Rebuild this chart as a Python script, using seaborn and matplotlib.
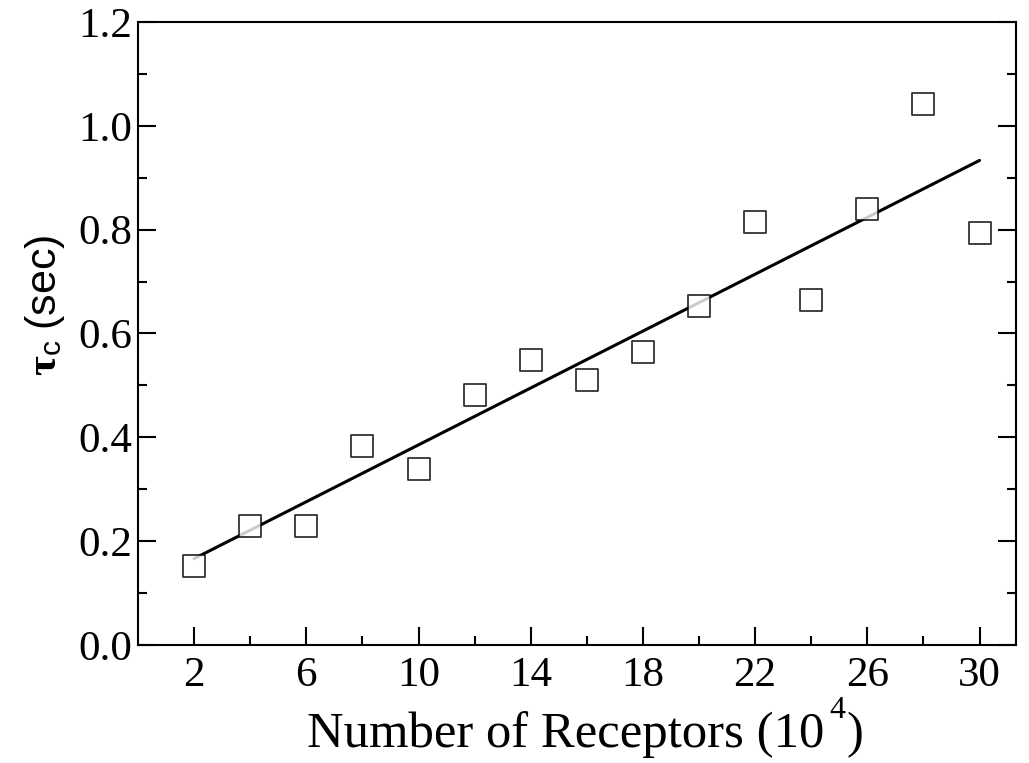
import numpy as np
import pandas as pd
import matplotlib
matplotlib.use("Agg")
import matplotlib.pyplot as plt
from matplotlib.ticker import MultipleLocator, FixedLocator
import seaborn as sns

# Receptor counts (units of 10^4) and measured correlation time tau_c (sec)
receptors = [2, 4, 6, 8, 10, 12, 14, 16, 18, 20, 22, 24, 26, 28, 30]
tau_c = [0.152, 0.229, 0.229, 0.383, 0.339, 0.482, 0.549, 0.511,
         0.565, 0.653, 0.815, 0.665, 0.840, 1.042, 0.794]
x_major_ticks = [2, 6, 10, 14, 18, 22, 26, 30]
x_minor_ticks = [4, 8, 12, 16, 20, 24, 28]
y_major_ticks = [0.0, 0.2, 0.4, 0.6, 0.8, 1.0, 1.2]

df = pd.DataFrame({"receptors": receptors, "tau_c": tau_c})

sns.set_style("ticks")
plt.rcParams["font.family"] = ["Liberation Serif", "DejaVu Serif"]
plt.rcParams["text.color"] = "black"
plt.rcParams["axes.labelcolor"] = "black"
plt.rcParams["mathtext.fontset"] = "custom"
plt.rcParams["mathtext.rm"] = "Liberation Serif"
plt.rcParams["mathtext.bf"] = "Liberation Serif:bold"
plt.rcParams["mathtext.it"] = "Liberation Serif:italic"
plt.rcParams["mathtext.sf"] = "Liberation Sans"

W, H = 1029, 763
fig = plt.figure(figsize=(W / 100, H / 100), dpi=100)
ax = fig.add_axes([138 / W, 1 - 645 / H, (1016 - 138) / W, (645 - 22) / H])

# Data points with a least-squares straight-line fit
sns.regplot(data=df, x="receptors", y="tau_c", ax=ax, ci=None,
            marker="s",
            scatter_kws=dict(s=250, facecolors="white", edgecolors="black",
                             linewidths=1.3, zorder=3),
            line_kws=dict(color="black", lw=2.2, zorder=2))

ax.set_xlim(0, 31.3)
ax.set_ylim(0, 1.2)
ax.xaxis.set_major_locator(FixedLocator(x_major_ticks))
ax.xaxis.set_minor_locator(FixedLocator(x_minor_ticks))
ax.yaxis.set_major_locator(FixedLocator(y_major_ticks))
ax.yaxis.set_minor_locator(MultipleLocator(0.1))
ax.set_xticklabels([str(v) for v in x_major_ticks])
ax.set_yticklabels([f"{v:.1f}" for v in y_major_ticks])

for s in ax.spines.values():
    s.set_linewidth(1.5)
    s.set_color("black")

ax.tick_params(which="both", direction="in", left=True, right=True,
               top=False, bottom=True, width=1.5, colors="black",
               labelsize=31)
ax.tick_params(which="major", length=13)
ax.tick_params(which="minor", length=6.5)
ax.tick_params(axis="x", pad=8)
ax.tick_params(axis="y", pad=4)

ax.set_xlabel("")
ax.set_ylabel(r"$\mathbf{\tau}_{\mathsf{c}}\ \mathsf{(sec)}$", fontsize=31)
ax.yaxis.set_label_coords(-0.081, 0.545)

# x-axis title with a raised exponent
renderer = fig.canvas.get_renderer()
base_y = 1 - 747 / H
t1 = fig.text(307 / W, base_y, "Number of Receptors (10", fontsize=36.5,
              ha="left", va="baseline")
x1 = t1.get_window_extent(renderer).x1
t2 = fig.text((x1 + 5) / W, 1 - 718 / H, "4", fontsize=23,
              ha="left", va="baseline")
x2 = t2.get_window_extent(renderer).x1
fig.text((x2 + 1) / W, base_y, ")", fontsize=36.5, ha="left", va="baseline")

fig.savefig("out.png", dpi=100)
